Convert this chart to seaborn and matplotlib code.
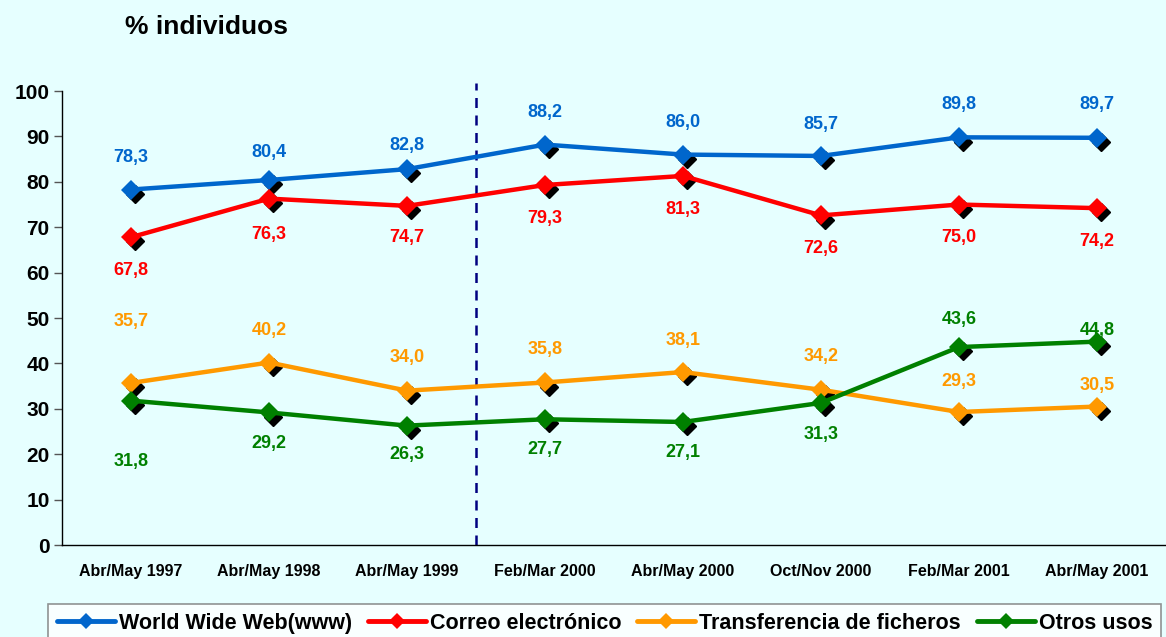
import matplotlib
matplotlib.use("Agg")
import matplotlib.pyplot as plt
import matplotlib.transforms as mtransforms
from matplotlib.lines import Line2D
import numpy as np
import pandas as pd
import seaborn as sns

periods = ["Abr/May 1997", "Abr/May 1998", "Abr/May 1999", "Feb/Mar 2000",
           "Abr/May 2000", "Oct/Nov 2000", "Feb/Mar 2001", "Abr/May 2001"]
www = [78.3, 80.4, 82.8, 88.2, 86.0, 85.7, 89.8, 89.7]
correo = [67.8, 76.3, 74.7, 79.3, 81.3, 72.6, 75.0, 74.2]
ficheros = [35.7, 40.2, 34.0, 35.8, 38.1, 34.2, 29.3, 30.5]
otros = [31.8, 29.2, 26.3, 27.7, 27.1, 31.3, 43.6, 44.8]
series_names = ["World Wide Web(www)", "Correo electrónico",
                "Transferencia de ficheros", "Otros usos"]
colors = ["#0066CC", "#FF0000", "#FF9900", "#008000"]

# label offsets in points (positive = above the point)
label_offsets = [
    [23, 20, 17, 23, 23, 23, 24, 24],
    [-24, -26, -23, -24, -24, -24, -24, -24],
    [44, 23, 24, 24, 23, 24, 22, 15],
    [-44, -22, -21, -22, -22, -23, 20, 8],
]

values = [www, correo, ficheros, otros]
df = pd.DataFrame({
    "pos": np.tile(np.arange(len(periods)), len(series_names)),
    "valor": np.concatenate(values),
    "serie": np.repeat(series_names, len(periods)),
})

sns.set_style("white")
plt.rcParams["font.family"] = ["Liberation Sans", "DejaVu Sans"]
plt.rcParams["font.weight"] = "bold"
plt.rcParams["text.color"] = "black"
plt.rcParams["xtick.color"] = "black"
plt.rcParams["ytick.color"] = "black"

bg = "#E6FFFF"
fig = plt.figure(figsize=(11.66, 6.37), dpi=100, facecolor=bg)
ax = fig.add_axes([0.0532, 0.1444, 0.9468, 0.7127])
ax.set_facecolor(bg)

shadow = ax.transData + mtransforms.ScaledTranslation(3 / 72, -3 / 72, fig.dpi_scale_trans)
for vals in values:
    ax.plot(np.arange(len(periods)), vals, linestyle="", marker="D", markersize=9.5,
            color="black", transform=shadow, zorder=2.5)

sns.lineplot(data=df, x="pos", y="valor", hue="serie", palette=colors,
             hue_order=series_names, marker="D", markersize=10, linewidth=3.2,
             markeredgewidth=0, legend=False, ax=ax, zorder=3)

for vals, col, offs in zip(values, colors, label_offsets):
    for i, (v, o) in enumerate(zip(vals, offs)):
        ax.annotate(f"{v:.1f}".replace(".", ","), (i, v), xytext=(0, o),
                    textcoords="offset points", ha="center", va="center",
                    color=col, fontsize=13, fontweight="bold")

ax.axvline(2.5, ymin=0, ymax=1.018, color="#000080", linestyle=(0, (4, 3)),
           linewidth=1.8, clip_on=False, zorder=2)

ax.set_xlim(-0.5, len(periods) - 0.5)
ax.set_ylim(0, 100)
ax.set_yticks(range(0, 101, 10))
ax.set_xticks(range(len(periods)))
ax.set_xticklabels(periods, fontsize=11.5, fontweight="bold")
ax.set_xticks(np.arange(-0.5, len(periods), 1), minor=True)
ax.tick_params(axis="x", which="major", length=0, pad=14)
ax.tick_params(axis="x", which="minor", length=5, width=1, color="#555555", direction="in")
ax.tick_params(axis="y", length=6, width=1, color="#555555", direction="out",
               labelsize=15, pad=3, left=True)
for lbl in ax.get_yticklabels():
    lbl.set_fontweight("bold")
ax.set_xlabel("")
ax.set_ylabel("")
for s in ["top", "right"]:
    ax.spines[s].set_visible(False)
for s in ["left", "bottom"]:
    ax.spines[s].set_color("black")
    ax.spines[s].set_linewidth(1)

fig.text(0.107, 0.958, "% individuos", fontsize=19, fontweight="bold", va="center")

handles = [Line2D([], [], color=c, linewidth=3.5, marker="D", markersize=8,
                  markeredgewidth=0) for c in colors]
leg = fig.legend(handles, series_names, loc="upper center", bbox_to_anchor=(0.5185, 0.0518),
                 ncol=4, frameon=True, fancybox=False, handlelength=2.7,
                 handletextpad=0.2, columnspacing=0.72, borderpad=0.4, borderaxespad=0,
                 prop={"weight": "bold", "size": 15.5})
leg.get_frame().set_edgecolor("#777777")
leg.get_frame().set_linewidth(1.2)
leg.get_frame().set_facecolor("white")

fig.savefig("out.png", dpi=100, facecolor=bg)
